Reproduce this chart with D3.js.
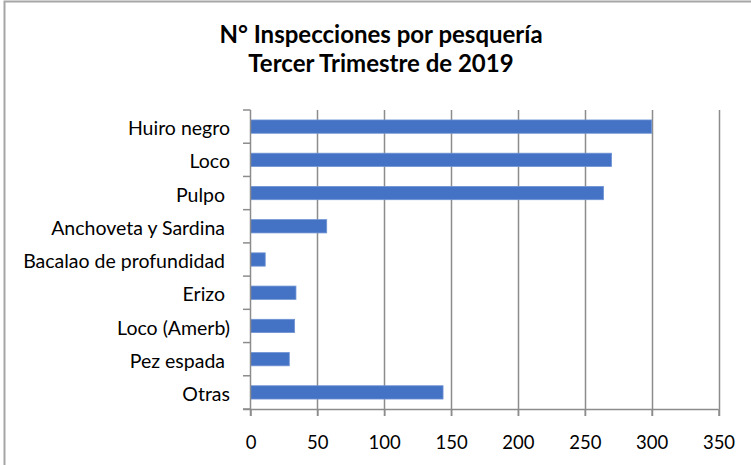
<!DOCTYPE html>
<html><head><meta charset="utf-8">
<script src="https://cdn.jsdelivr.net/npm/d3@7/dist/d3.min.js"></script>
<style>body{margin:0;background:#fff}svg{display:block}</style>
</head><body>
<script>
const categories = ["Huiro negro","Loco","Pulpo ","Anchoveta y Sardina ","Bacalao de profundidad ","Erizo ","Loco (Amerb)","Pez espada ","Otras"];
const values = [300,270,264,57,11,34,33,29,144];
const ticks = [0,50,100,150,200,250,300,350];
const titleLines = ["N° Inspecciones por pesquería","Tercer Trimestre de 2019"];

const W=751,H=465;
const svg=d3.select("body").append("svg").attr("width",W).attr("height",H);
const font="Lato, 'Open Sans', sans-serif";
svg.append("rect").attr("x",4.5).attr("y",1.5).attr("width",W+10).attr("height",H+10)
  .attr("fill","#fff").attr("stroke","#a6a6a6").attr("stroke-width",2);

const x=d3.scaleLinear().domain([0,350]).range([250.5,718.5]);
const y=d3.scaleBand().domain(categories).range([110,409]).paddingInner(0.6).paddingOuter(0.3);

// gridlines
svg.append("g").selectAll("line").data(ticks.slice(1)).join("line")
  .attr("x1",d=>Math.round(x(d))+0.5).attr("x2",d=>Math.round(x(d))+0.5)
  .attr("y1",110).attr("y2",416).attr("stroke","#8c8c8c").attr("stroke-width",1.5);

// bars
svg.append("g").selectAll("rect").data(values).join("rect")
  .attr("x",x(0)).attr("y",(d,i)=>y(categories[i]))
  .attr("width",d=>x(d)-x(0)).attr("height",y.bandwidth())
  .attr("fill","#4472c4").attr("stroke","#6f93d4").attr("stroke-width",0.8);

// x axis
const xa=svg.append("g").attr("transform","translate(0,409)")
  .call(d3.axisBottom(x).tickValues(ticks).tickSize(7).tickPadding(20).tickSizeOuter(0));
xa.select(".domain").attr("stroke","#8c8c8c").attr("stroke-width",1.5).attr("d","M243,0.5H718.5");
xa.selectAll(".tick line").attr("stroke","#8c8c8c").attr("stroke-width",1.5);
xa.selectAll("text").attr("font-family",font).attr("font-size",18.5).attr("fill","#000");

// y axis
const bounds=d3.range(categories.length+1).map(i=>110+i*(299/categories.length));
svg.append("line").attr("x1",250.5).attr("x2",250.5).attr("y1",110).attr("y2",416)
  .attr("stroke","#8c8c8c").attr("stroke-width",1.5);
svg.append("g").selectAll("line").data(bounds).join("line")
  .attr("x1",243).attr("x2",250.5).attr("y1",d=>d).attr("y2",d=>d)
  .attr("stroke","#8c8c8c").attr("stroke-width",1.5);
svg.append("g").selectAll("text").data(categories).join("text")
  .attr("x",230).attr("y",d=>y(d)+y.bandwidth()/2).attr("dy","0.44em")
  .attr("text-anchor","end").attr("font-family",font).attr("font-size",19.5)
  .style("white-space","pre").text(d=>d);

// title
svg.append("g").selectAll("text").data(titleLines).join("text")
  .attr("x",381).attr("y",(d,i)=>43+i*29).attr("text-anchor","middle")
  .attr("font-family",font).attr("font-weight","bold").attr("font-size",24).text(d=>d);
</script>
</body></html>
